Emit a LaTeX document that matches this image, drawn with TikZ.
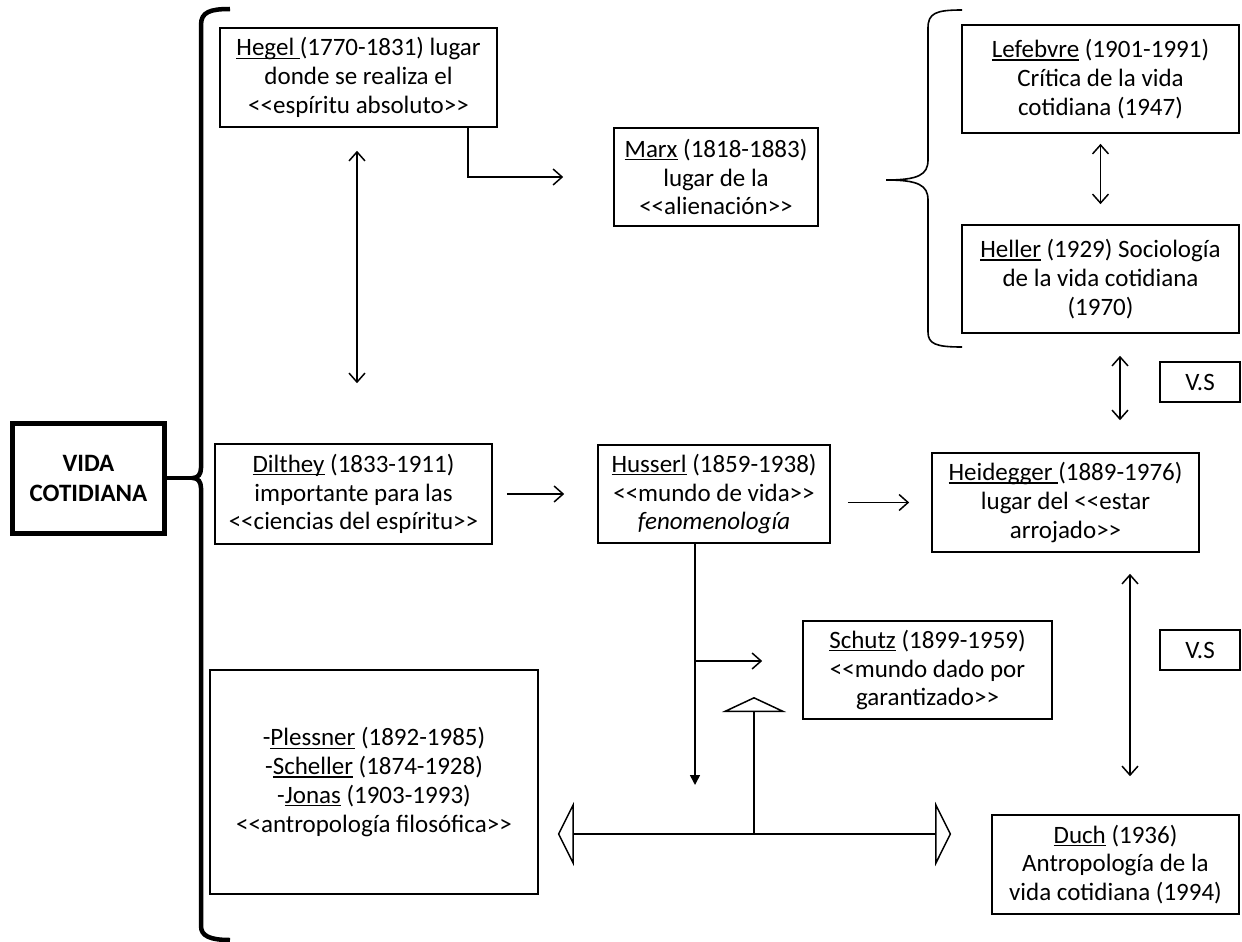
\documentclass[tikz,border=0pt]{standalone}
\usepackage{fontspec}
\setmainfont{Carlito}
\usetikzlibrary{arrows.meta}
\newcommand\ul[1]{\setbox0\hbox{#1}\rlap{\rule[-3pt]{\wd0}{1.3pt}}\box0\relax}
\newcommand\oq{<\kern0pt<}
\newcommand\cq{>\kern0pt>}
\begin{document}
\begin{tikzpicture}[x=1pt,y=-1pt,
  box/.style={draw, line width=1.6pt, align=center, inner sep=0pt,
    font=\fontsize{25}{28.8}\selectfont},
  arr/.style={line width=1.5pt, -{Straight Barb[length=9pt,width=16pt]}},
  dbl/.style={line width=1.5pt, {Straight Barb[length=9pt,width=16pt]}-{Straight Barb[length=9pt,width=16pt]}},
  bigtip/.style={line width=1.5pt},
  thinbrace/.style={line width=1.6pt},
  thickbrace/.style={line width=4.5pt}]
\useasboundingbox (0,0) rectangle (1242,942);

% nodes
\node[draw, line width=5pt, minimum width=152pt, minimum height=110pt, align=center,
  font=\bfseries\fontsize{25}{30}\selectfont] (vida) at (88.5,478) {VIDA\\COTIDIANA};
\node[box, minimum width=277pt, minimum height=99pt] (hegel) at (358.5,77.5)
  {\ul{Hegel }(1770-1831) lugar\\donde se realiza el\\\oq espíritu absoluto\cq};
\node[box, minimum width=204pt, minimum height=98pt] (marx) at (716,177)
  {\ul{Marx} (1818-1883)\\lugar de la\\\oq alienación\cq};
\node[box, minimum width=277pt, minimum height=108pt] (lef) at (1100.5,79)
  {\ul{Lefebvre} (1901-1991)\\Crítica de la vida\\cotidiana (1947)};
\node[box, minimum width=277pt, minimum height=108pt] (hel) at (1100.5,279)
  {\ul{Heller} (1929) Sociología\\de la vida cotidiana\\(1970)};
\node[box, minimum width=277pt, minimum height=100pt] (dil) at (353.5,494)
  {\ul{Dilthey} (1833-1911)\\importante para las\\\oq ciencias del espíritu\cq};
\node[box, minimum width=232pt, minimum height=98pt] (hus) at (714,494)
  {\ul{Husserl} (1859-1938)\\\oq mundo de vida\cq\\\textit{fenomenología}};
\node[box, minimum width=267pt, minimum height=99pt] (hei) at (1065.5,502.5)
  {\ul{Heidegger }(1889-1976)\\lugar del \oq estar\\arrojado\cq};
\node[box, minimum width=249pt, minimum height=98pt] (sch) at (927.5,670)
  {\ul{Schutz} (1899-1959)\\\oq mundo dado por\\garantizado\cq};
\node[box, minimum width=328pt, minimum height=224pt] (ple) at (374,782)
  {-\ul{Plessner} (1892-1985)\\-\ul{Scheller} (1874-1928)\\-\ul{Jonas} (1903-1993)\\\oq antropología filosófica\cq};
\node[box, minimum width=247pt, minimum height=99pt] (duch) at (1115.5,864.5)
  {\ul{Duch} (1936)\\Antropología de la\\vida cotidiana (1994)};
\node[box, minimum width=80pt, minimum height=40pt] (vs1) at (1200,382) {V.S};
\node[box, minimum width=80pt, minimum height=40pt] (vs2) at (1200,650) {V.S};

% helper coordinates
\coordinate (hx) at (357,0);
\coordinate (hh) at (1120,0);
\coordinate (hd) at (1130,0);
\coordinate (hv) at (695,0);
\coordinate (hm) at (468,0);
\coordinate (hend) at (695,785);
\coordinate (hb) at (695,661);
\coordinate (tm) at (754,834);
\coordinate (tapex) at (754,697);
\coordinate (ltip) at (193,478);
\coordinate (rtip) at (886,180);

% left thick bracket
\draw[thickbrace] (230,9) .. controls (210,9) and (201,12) .. (201,25) -- (201,468)
  .. controls (201,474) and (198,478) .. (ltip) .. controls (198,478) and (201,482) .. (201,488)
  -- (201,926) .. controls (201,936) and (210,940) .. (230,940);
\draw[line width=3.5pt] (vida.east) -- (ltip);

% right brace
\draw[thinbrace] (962,10) .. controls (936,10) and (928,13) .. (928,28) -- (928,160)
  .. controls (928,175) and (918,180) .. (rtip) .. controls (918,180) and (928,185) .. (928,200)
  -- (928,332) .. controls (928,344) and (936,347) .. (962,347);

% connectors
\draw[arr, shorten >=50pt] (hegel.south -| hm) |- (marx.west);
\draw[dbl, shorten <=23pt, shorten >=60pt] (hegel.south -| hx) -- (dil.north -| hx);
\draw[dbl, shorten <=10pt, shorten >=20pt] (lef.south) -- (hel.north);
\draw[dbl, shorten <=22pt, shorten >=32pt] (hel.south -| hh) -- (hei.north -| hh);
\draw[dbl, shorten <=21pt, shorten >=38pt] (hei.south -| hd) -- (duch.north -| hd);
\draw[arr, shorten <=14pt, shorten >=33pt] (dil.east) -- (hus.west);
\draw[arr, shorten <=17pt, shorten >=22pt] (hus.east |- hei.west) -- (hei.west);
\draw[line width=1.5pt, -{Triangle[length=10pt,width=10pt]}] (hus.south -| hv) -- (hend);
\draw[arr, shorten >=40pt] (hb) -- (sch.west |- hb);
\draw[bigtip, {Triangle[open,length=16pt,width=64pt]}-{Triangle[open,length=16pt,width=64pt]},
  shorten <=19pt, shorten >=40pt] (ple.east |- tm) -- (duch.west |- tm);
\draw[bigtip, -{Triangle[open,length=15pt,width=64pt]}] (tm) -- (tapex);
\end{tikzpicture}
\end{document}
